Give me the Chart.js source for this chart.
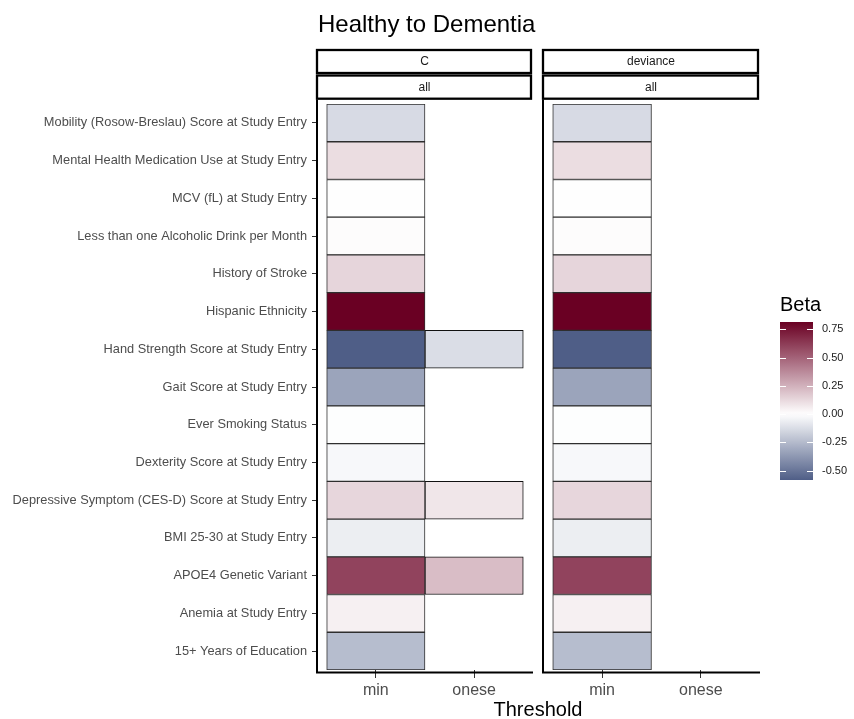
<!DOCTYPE html>
<html>
<head>
<meta charset="utf-8">
<script src="https://cdn.jsdelivr.net/npm/chart.js@4.4.1/dist/chart.umd.min.js"></script>
<style>
  html, body { margin: 0; padding: 0; background: #fff; }
  #wrap { position: relative; width: 854px; height: 719px; overflow: hidden;
          font-family: "Liberation Sans", Arial, Helvetica, sans-serif; }
  #wrap canvas { position: absolute; left: 0; top: 0; }
  .txt { position: absolute; white-space: nowrap; line-height: 1; color: #000; }
</style>
</head>
<body>
<div id="wrap">
  <canvas id="panelC" width="854" height="719"></canvas>
  <canvas id="panelDev" width="854" height="719"></canvas>
  <canvas id="scaleBar" width="854" height="719"></canvas>
  <div class="txt" style="left:318px; top:11.7px; font-size:24px;">Healthy to Dementia</div>
  <div class="txt" style="left:338px; width:400px; text-align:center; top:699px; font-size:20px;">Threshold</div>
  <div class="txt" style="left:780px; top:294px; font-size:20px;">Beta</div>
</div>
<script>
// Threshold columns and predictor rows (top to bottom)
const thresholds = ['min', 'onese'];
const rowLabels = [
  'Mobility (Rosow-Breslau) Score at Study Entry',
  'Mental Health Medication Use at Study Entry',
  'MCV (fL) at Study Entry',
  'Less than one Alcoholic Drink per Month',
  'History of Stroke',
  'Hispanic Ethnicity',
  'Hand Strength Score at Study Entry',
  'Gait Score at Study Entry',
  'Ever Smoking Status',
  'Dexterity Score at Study Entry',
  'Depressive Symptom (CES-D) Score at Study Entry',
  'BMI 25-30 at Study Entry',
  'APOE4 Genetic Variant',
  'Anemia at Study Entry',
  '15+ Years of Education'
];

// Beta coefficients per facet and threshold (null = not selected)
const betaC_min      = [-0.132, 0.110, 0.003, 0.010, 0.134, 0.814, -0.582, -0.330, -0.005, -0.026, 0.130, -0.063, 0.600, 0.048, -0.240];
const betaC_onese    = [null, null, null, null, null, null, -0.122, null, null, null, 0.080, null, 0.210, null, null];
const betaDev_min    = [-0.132, 0.110, 0.003, 0.010, 0.134, 0.814, -0.582, -0.330, -0.005, -0.026, 0.130, -0.063, 0.600, 0.048, -0.240];
const betaDev_onese  = [null, null, null, null, null, null, null, null, null, null, null, null, null, null, null];

// Facet strip labels
const stripMetric = ['C', 'deviance'];
const stripSubset = ['all', 'all'];

// Colour bar range and tick values
const BETA_MIN = -0.582;
const BETA_MAX = 0.814;
const legendTicks = [-0.5, -0.25, 0, 0.25, 0.5, 0.75];

const FONT = '"Liberation Sans", Arial, Helvetica, sans-serif';
const LOW = [79, 94, 135];
const HIGH = [106, 0, 35];

// Diverging fill: low -> white (0) -> high
function betaColor(v) {
  if (v == null) return 'rgba(0,0,0,0)';
  const end = v < 0 ? LOW : HIGH;
  const t = Math.min(1, v < 0 ? v / BETA_MIN : v / BETA_MAX);
  const c = end.map(e => Math.round(255 + (e - 255) * t));
  return `rgb(${c[0]},${c[1]},${c[2]})`;
}

function cellDataset(values, col, edge) {
  return {
    label: thresholds[col],
    data: values.map(v => (v == null ? null : [col, col + 1])),
    beta: values,
    backgroundColor: c => betaColor(c.dataset.beta[c.dataIndex]),
    borderColor: edge,
    borderWidth: 1,
    borderSkipped: false,
    barPercentage: 1,
    categoryPercentage: 1,
    grouped: false
  };
}

// Facet strips and axis lines around each panel
const facetPlugin = {
  id: 'facetFrame',
  afterDraw(chart, args, opts) {
    const { ctx, chartArea: a } = chart;
    ctx.save();
    // strips
    const boxes = [[50, 73, stripMetric[opts.facet]], [75.5, 98.7, stripSubset[opts.facet]]];
    ctx.lineWidth = 2.3;
    ctx.strokeStyle = '#000';
    ctx.fillStyle = '#fff';
    ctx.font = `12px ${FONT}`;
    ctx.textAlign = 'center';
    ctx.textBaseline = 'middle';
    boxes.forEach(([y0, y1, label]) => {
      ctx.fillStyle = '#fff';
      ctx.fillRect(a.left - 1, y0, a.right - a.left - 1, y1 - y0);
      ctx.strokeRect(a.left - 1, y0, a.right - a.left - 1, y1 - y0);
      ctx.fillStyle = '#1a1a1a';
      ctx.fillText(label, (a.left + a.right) / 2 - 1, (y0 + y1) / 2 + 0.5);
    });
    // axis lines
    ctx.lineWidth = 2;
    ctx.strokeStyle = '#000';
    ctx.beginPath();
    ctx.moveTo(a.left - 1, 99.5);
    ctx.lineTo(a.left - 1, a.bottom + 3.5);
    ctx.moveTo(a.left - 2, a.bottom + 2.5);
    ctx.lineTo(a.right, a.bottom + 2.5);
    ctx.stroke();
    ctx.restore();
  }
};

function makePanel(id, minVals, oneseVals, facet, yWidth, padRight, showY) {
  return new Chart(document.getElementById(id), {
    type: 'bar',
    data: {
      labels: rowLabels,
      datasets: [
        cellDataset(minVals, 0, '#2e2e2e'),
        cellDataset(oneseVals, 1, '#111')
      ]
    },
    options: {
      indexAxis: 'y',
      responsive: false,
      animation: false,
      devicePixelRatio: 1,
      events: [],
      layout: { padding: { top: 104, right: padRight, bottom: 0, left: 0 } },
      plugins: {
        legend: { display: false },
        tooltip: { enabled: false },
        title: { display: false },
        facetFrame: { facet }
      },
      scales: {
        y: {
          type: 'category',
          offset: true,
          grid: { display: showY, drawOnChartArea: false, drawTicks: showY, tickLength: 6, offset: false, color: '#333', lineWidth: 1 },
          border: { display: false },
          ticks: { display: showY, autoSkip: false, padding: 5, color: '#4d4d4d', font: { family: FONT, size: 12.8 } },
          afterFit: s => { s.width = yWidth; }
        },
        x: {
          type: 'linear',
          min: -0.0885,
          max: 2.099,
          grid: { display: true, drawOnChartArea: false, drawTicks: true, tickLength: 8, color: '#333', lineWidth: 1 },
          border: { display: false },
          afterBuildTicks: s => { s.ticks = thresholds.map((t, i) => ({ value: i + 0.5 })); },
          ticks: {
            padding: 3,
            color: '#4d4d4d',
            font: { family: FONT, size: 16 },
            callback: v => thresholds[Math.floor(v)]
          },
          afterFit: s => { s.height = 49; }
        }
      }
    },
    plugins: [facetPlugin]
  });
}

makePanel('panelC', betaC_min, betaC_onese, 0, 318, 854 - 533, true);
makePanel('panelDev', betaDev_min, betaDev_onese, 1, 544, 854 - 760, false);

// Colour bar legend
const barTicksPlugin = {
  id: 'barTicks',
  afterDatasetsDraw(chart) {
    const { ctx, chartArea: a, scales } = chart;
    ctx.save();
    ctx.strokeStyle = '#fff';
    ctx.lineWidth = 1;
    legendTicks.forEach(v => {
      const y = Math.round(scales.y.getPixelForValue(v)) + 0.5;
      ctx.beginPath();
      ctx.moveTo(a.left, y); ctx.lineTo(a.left + 6, y);
      ctx.moveTo(a.right - 6, y); ctx.lineTo(a.right, y);
      ctx.stroke();
    });
    ctx.restore();
  }
};

new Chart(document.getElementById('scaleBar'), {
  type: 'bar',
  data: {
    labels: [''],
    datasets: [{
      data: [[BETA_MIN, BETA_MAX]],
      barPercentage: 1,
      categoryPercentage: 1,
      borderWidth: 0,
      backgroundColor: c => {
        const { chart } = c;
        const a = chart.chartArea;
        if (!a) return '#fff';
        const ys = chart.scales.y;
        const g = chart.ctx.createLinearGradient(0, ys.getPixelForValue(BETA_MIN), 0, ys.getPixelForValue(BETA_MAX));
        const n = 40;
        for (let i = 0; i <= n; i++) {
          const v = BETA_MIN + (BETA_MAX - BETA_MIN) * i / n;
          g.addColorStop(i / n, betaColor(v));
        }
        return g;
      }
    }]
  },
  options: {
    responsive: false,
    animation: false,
    devicePixelRatio: 1,
    events: [],
    layout: { padding: { top: 322, right: 0, bottom: 719 - 480, left: 780 } },
    plugins: { legend: { display: false }, tooltip: { enabled: false } },
    scales: {
      x: { display: false, grid: { display: false } },
      y: {
        type: 'linear',
        position: 'right',
        min: BETA_MIN,
        max: BETA_MAX,
        grid: { display: false, drawTicks: false },
        border: { display: false },
        afterBuildTicks: s => { s.ticks = legendTicks.map(v => ({ value: v })); },
        ticks: {
          padding: 9,
          color: '#1a1a1a',
          font: { family: FONT, size: 11 },
          callback: v => Number(v).toFixed(2)
        },
        afterFit: s => { s.width = 854 - 813; }
      }
    }
  },
  plugins: [barTicksPlugin]
});
</script>
</body>
</html>
